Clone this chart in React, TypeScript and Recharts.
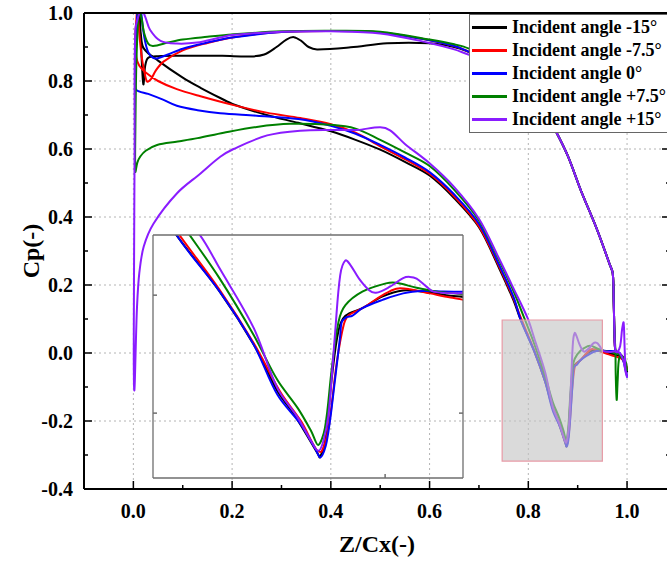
import React from "react";
import { LineChart, Line, XAxis, YAxis, CartesianGrid, ReferenceArea } from "recharts";

type Pt = [number, number];

const seriesNames = [
  "Incident angle -15°",
  "Incident angle -7.5°",
  "Incident angle 0°",
  "Incident angle +7.5°",
  "Incident angle +15°",
];

const xMajor = [0, 0.2, 0.4, 0.6, 0.8, 1.0];
const xMinor = [0.1, 0.3, 0.5, 0.7, 0.9];
const yMajor = [-0.4, -0.2, 0, 0.2, 0.4, 0.6, 0.8, 1.0];
const yMinor = [-0.3, -0.1, 0.1, 0.3, 0.5, 0.7, 0.9];
const gridX = [0, 0.2, 0.4, 0.6, 0.8, 1.0];
const gridY = [-0.2, 0, 0.2, 0.4, 0.6, 0.8];
const insetXTicks = [0.92];
const insetYTicks = [0, -0.2];

// pressure side from the trailing edge drop back up to the legend (same for all angles)
const pressureTail: Pt[] = [
  [0.9765, 0.005], [0.9745, 0.06], [0.973, 0.15], [0.971, 0.235], [0.965, 0.26], [0.94, 0.36],
  [0.906, 0.48], [0.88, 0.58], [0.853, 0.66], [0.83, 0.72], [0.8, 0.78], [0.76, 0.83], [0.72, 0.86],
];

// each loop: suction side LE -> TE, then pressure side TE -> LE
const loopM15: Pt[] = [
  [0.011, 1.0], [0.015, 0.94], [0.021, 0.896], [0.05, 0.86], [0.1, 0.81], [0.136, 0.78], [0.176, 0.75],
  [0.205, 0.73], [0.27, 0.7], [0.334, 0.677], [0.4, 0.652], [0.45, 0.627], [0.5, 0.598], [0.55, 0.562],
  [0.6, 0.522], [0.65, 0.455], [0.7, 0.37], [0.74, 0.252], [0.77, 0.155], [0.783, 0.103], [0.8117, 0.006],
  [0.834, -0.084], [0.8495, -0.163], [0.8606, -0.203], [0.8762, -0.27], [0.8773, -0.275], [0.8806, -0.25],
  [0.8851, -0.14], [0.8895, -0.06], [0.894, -0.035], [0.9051, -0.022], [0.9184, -0.002], [0.9318, 0.008],
  [0.9451, 0.006], [0.96, 0.0], [0.976, -0.005], [0.988, -0.012], [0.995, -0.025], [1.0, -0.055],
  [0.997, -0.03], [0.99, -0.008], [0.982, 0.0],
  ...pressureTail,
  [0.68, 0.885], [0.65, 0.9], [0.6, 0.911], [0.514, 0.911], [0.44, 0.899], [0.372, 0.893], [0.355, 0.9],
  [0.34, 0.918], [0.325, 0.929], [0.31, 0.922], [0.29, 0.9], [0.265, 0.878], [0.237, 0.872], [0.18, 0.874],
  [0.1, 0.874], [0.05, 0.873], [0.03, 0.868], [0.024, 0.845], [0.0205, 0.79], [0.018, 0.83], [0.015, 0.93],
  [0.013, 1.0],
];

const loopM75: Pt[] = [
  [0.007, 1.0], [0.004, 0.93], [0.006, 0.87], [0.012, 0.845], [0.025, 0.825], [0.05, 0.8], [0.088, 0.776],
  [0.136, 0.755], [0.203, 0.729], [0.27, 0.707], [0.338, 0.691], [0.4, 0.673], [0.45, 0.648], [0.5, 0.608],
  [0.55, 0.57], [0.6, 0.527], [0.65, 0.46], [0.7, 0.373], [0.74, 0.257], [0.77, 0.16], [0.785, 0.103],
  [0.8117, 0.0085], [0.834, -0.0816], [0.8518, -0.166], [0.865, -0.214], [0.875, -0.262], [0.8784, -0.265],
  [0.8829, -0.225], [0.8884, -0.113], [0.8929, -0.05], [0.8962, -0.034], [0.9051, -0.022], [0.9184, 0.0],
  [0.9273, 0.011], [0.9362, 0.01], [0.9495, 0.003], [0.9629, -0.004], [0.9762, -0.01], [0.988, -0.016],
  [0.995, -0.028], [1.0, -0.05],
  [0.997, -0.03], [0.99, -0.01], [0.982, -0.002],
  ...pressureTail,
  [0.68, 0.886], [0.65, 0.903], [0.6, 0.92], [0.5, 0.943], [0.4, 0.947], [0.3, 0.944], [0.25, 0.938],
  [0.2, 0.928], [0.15, 0.912], [0.1, 0.89], [0.061, 0.857], [0.045, 0.83], [0.036, 0.806], [0.028, 0.798],
  [0.022, 0.83], [0.017, 0.87], [0.012, 0.94], [0.009, 1.0],
];

const loop0: Pt[] = [
  [0.008, 1.0], [0.005, 0.9], [0.004, 0.8], [0.006, 0.774], [0.03, 0.762], [0.06, 0.745], [0.088, 0.727],
  [0.13, 0.714], [0.176, 0.705], [0.25, 0.698], [0.334, 0.688], [0.4, 0.668], [0.45, 0.645], [0.5, 0.612],
  [0.55, 0.575], [0.6, 0.532], [0.65, 0.466], [0.7, 0.38], [0.74, 0.262], [0.77, 0.165], [0.785, 0.096],
  [0.8117, 0.006], [0.834, -0.084], [0.8495, -0.169], [0.865, -0.22], [0.874, -0.259], [0.8777, -0.275],
  [0.8818, -0.248], [0.8873, -0.141], [0.8906, -0.068], [0.8917, -0.045], [0.8951, -0.037], [0.8984, -0.035],
  [0.9051, -0.022], [0.9184, -0.008], [0.9318, 0.003], [0.9451, 0.007], [0.9584, 0.006], [0.9762, 0.005],
  [0.985, 0.0], [0.992, -0.02], [0.997, -0.05], [1.0, -0.07],
  [0.996, -0.04], [0.99, -0.012], [0.982, 0.0],
  ...pressureTail,
  [0.68, 0.886], [0.65, 0.903], [0.6, 0.92], [0.5, 0.943], [0.4, 0.947], [0.3, 0.944], [0.2, 0.928],
  [0.15, 0.913], [0.1, 0.895], [0.07, 0.878], [0.05, 0.867], [0.04, 0.868], [0.03, 0.885], [0.022, 0.93],
  [0.016, 1.0],
];

const loopP75: Pt[] = [
  [0.01, 1.0], [0.006, 0.85], [0.004, 0.65], [0.004, 0.533], [0.008, 0.56], [0.014, 0.578], [0.025, 0.595],
  [0.048, 0.612], [0.09, 0.622], [0.13, 0.632], [0.183, 0.648], [0.25, 0.665], [0.318, 0.674], [0.4, 0.671],
  [0.45, 0.66], [0.5, 0.627], [0.55, 0.59], [0.6, 0.55], [0.65, 0.48], [0.7, 0.39], [0.74, 0.275],
  [0.77, 0.182], [0.7917, 0.103], [0.8117, 0.028], [0.834, -0.068], [0.8495, -0.144], [0.8629, -0.192],
  [0.8717, -0.231], [0.8762, -0.254], [0.8806, -0.225], [0.8851, -0.124], [0.8895, -0.045], [0.894, -0.017],
  [0.9051, 0.006], [0.9206, 0.02], [0.9273, 0.021], [0.9406, 0.0125], [0.954, 0.006], [0.9762, 0.0],
  [0.985, -0.005], [0.992, -0.02], [0.997, -0.04], [1.0, -0.05],
  [0.996, -0.02], [0.99, -0.01], [0.984, -0.015], [0.981, -0.08], [0.979, -0.138], [0.977, -0.06],
  ...pressureTail,
  [0.68, 0.895], [0.65, 0.908], [0.6, 0.922], [0.5, 0.945], [0.4, 0.948], [0.3, 0.946], [0.2, 0.937],
  [0.15, 0.93], [0.1, 0.922], [0.07, 0.913], [0.04, 0.903], [0.03, 0.91], [0.022, 0.94], [0.017, 0.98],
  [0.014, 1.0],
];

const loopP15: Pt[] = [
  [0.012, 1.0], [0.004, 0.95], [0.0025, 0.6], [0.0012, 0.2], [0.0008, 0.0], [0.0012, -0.09], [0.002, -0.11],
  [0.003, -0.08], [0.0045, 0.0], [0.0074, 0.136], [0.012, 0.235], [0.021, 0.313], [0.041, 0.381],
  [0.0885, 0.47], [0.136, 0.528], [0.176, 0.577], [0.203, 0.6], [0.271, 0.64], [0.338, 0.654], [0.406, 0.656],
  [0.453, 0.656], [0.5, 0.664], [0.52, 0.655], [0.55, 0.615], [0.6, 0.558], [0.65, 0.488], [0.7, 0.395],
  [0.74, 0.28], [0.77, 0.19], [0.7984, 0.103], [0.8117, 0.045], [0.834, -0.056], [0.8495, -0.158],
  [0.8629, -0.208], [0.8717, -0.248], [0.8762, -0.264], [0.8795, -0.248], [0.8829, -0.203], [0.8873, -0.062],
  [0.8906, 0.034], [0.894, 0.059], [0.8973, 0.051], [0.9029, 0.028], [0.9095, 0.0085], [0.914, 0.004],
  [0.9229, 0.014], [0.9318, 0.029], [0.9362, 0.031], [0.9406, 0.028], [0.9473, 0.014], [0.9518, 0.006],
  [0.9673, 0.003], [0.9762, 0.005], [0.985, 0.0], [0.992, -0.02], [0.997, -0.055], [1.0, -0.07],
  [0.997, -0.05], [0.995, 0.02], [0.993, 0.09], [0.99, 0.07], [0.986, 0.02], [0.98, 0.002],
  ...pressureTail,
  [0.68, 0.877], [0.65, 0.893], [0.6, 0.912], [0.5, 0.94], [0.4, 0.946], [0.3, 0.945], [0.2, 0.935],
  [0.176, 0.928], [0.129, 0.913], [0.088, 0.91], [0.055, 0.918], [0.034, 0.95], [0.025, 0.985], [0.021, 1.0],
];

const loops = [loopM15, loopM75, loop0, loopP75, loopP15];
const COLORS = ["#000000", "#ff0000", "#0000ff", "#008000", "#8a1cff"];
const FONT = '"Liberation Serif", "Times New Roman", serif';

const toRows = (pts: Pt[]) => pts.map(([x, y]) => ({ x, y }));
const isIn = (list: number[], v: number) => list.some((m) => Math.abs(m - v) < 1e-9);

// smooth curve through the points (chord-length tangents, no loops on uneven spacing)
function smoothCurve(context: any) {
  let pts: number[][] = [];
  return {
    areaStart() {},
    areaEnd() {},
    lineStart() {
      pts = [];
    },
    point(x: number, y: number) {
      pts.push([+x, +y]);
    },
    lineEnd() {
      const n = pts.length;
      if (!n) return;
      context.moveTo(pts[0][0], pts[0][1]);
      const d = (a: number[], b: number[]) => Math.hypot(b[0] - a[0], b[1] - a[1]) || 1e-6;
      const tan = (i: number) => {
        const a = pts[Math.max(i - 1, 0)];
        const b = pts[Math.min(i + 1, n - 1)];
        const len = (i > 0 ? d(pts[i - 1], pts[i]) : 0) + (i < n - 1 ? d(pts[i], pts[i + 1]) : 0);
        return [(b[0] - a[0]) / len, (b[1] - a[1]) / len];
      };
      for (let i = 0; i < n - 1; i++) {
        const p = pts[i];
        const q = pts[i + 1];
        const s = d(p, q) / 3;
        const t0 = tan(i);
        const t1 = tan(i + 1);
        context.bezierCurveTo(p[0] + t0[0] * s, p[1] + t0[1] * s, q[0] - t1[0] * s, q[1] - t1[1] * s, q[0], q[1]);
      }
    },
  };
}

const labelStyle = { fontFamily: FONT, fontWeight: "bold", fontSize: 20, fill: "#000" } as const;
const titleStyle = { fontFamily: FONT, fontWeight: "bold", fontSize: 24, fill: "#000" } as const;

function makeTick(side: "bottom" | "top" | "left" | "right", majors: number[], withLabel: boolean, stroke: string, major = 8, minor = 4) {
  return (props: any) => {
    const { x, y, payload } = props;
    const big = isIn(majors, payload.value);
    const len = big ? major : minor;
    let line;
    if (side === "bottom") line = <line x1={x} x2={x} y1={y} y2={y - len} />;
    else if (side === "top") line = <line x1={x} x2={x} y1={y} y2={y + len} />;
    else if (side === "left") line = <line x1={x} x2={x + len} y1={y} y2={y} />;
    else line = <line x1={x} x2={x - len} y1={y} y2={y} />;
    return (
      <g stroke={stroke} strokeWidth={1.5}>
        {line}
        {withLabel && big && side === "bottom" && (
          <text x={x} y={y + 29} textAnchor="middle" stroke="none" style={labelStyle}>
            {Number(payload.value).toFixed(1)}
          </text>
        )}
        {withLabel && big && side === "left" && (
          <text x={x - 11} y={y + 7} textAnchor="end" stroke="none" style={labelStyle}>
            {Number(payload.value).toFixed(1)}
          </text>
        )}
      </g>
    );
  };
}

const xTicks = [...xMajor, ...xMinor];
const yTicks = [...yMajor, ...yMinor];
const axisLine = { stroke: "#000", strokeWidth: 2 };
const insetAxisLine = { stroke: "#6e6e6e", strokeWidth: 1.3 };
const insetX = [0.768, 0.971];
const insetY = [-0.31, 0.102];

function CpLines() {
  return loops.map((pts, i) => (
    <Line
      key={seriesNames[i]}
      data={toRows(pts)}
      dataKey="y"
      stroke={COLORS[i]}
      strokeWidth={2}
      type={smoothCurve as any}
      dot={false}
      activeDot={false}
      isAnimationActive={false}
    />
  ));
}

export default function App() {
  return (
    <div style={{ position: "absolute", left: 0, top: 0, width: 667, height: 566, overflow: "hidden", background: "#fff" }}>
      <LineChart width={680} height={566} margin={{ top: 12, right: 9, bottom: 0, left: 0 }}>
        <CartesianGrid horizontalValues={gridY} verticalValues={gridX} stroke="#b4b4b4" strokeDasharray="2 3" />
        <XAxis
          dataKey="x"
          type="number"
          domain={[-0.1, 1.087]}
          allowDataOverflow
          ticks={xTicks}
          interval={0}
          height={77}
          tickSize={0}
          tickMargin={0}
          tickLine={false}
          axisLine={axisLine}
          tick={makeTick("bottom", xMajor, true, "#000")}
          label={{ value: "Z/Cx(-)", position: "insideBottom", offset: 14, style: titleStyle }}
        />
        <XAxis
          xAxisId="top"
          orientation="top"
          type="number"
          domain={[-0.1, 1.087]}
          allowDataOverflow
          ticks={xTicks}
          interval={0}
          height={1}
          tickSize={0}
          tickMargin={0}
          tickLine={false}
          axisLine={axisLine}
          tick={makeTick("top", xMajor, false, "#000")}
        />
        <YAxis
          dataKey="y"
          type="number"
          domain={[-0.4, 1.0]}
          allowDataOverflow
          ticks={yTicks}
          interval={0}
          width={84}
          tickSize={0}
          tickMargin={0}
          tickLine={false}
          axisLine={axisLine}
          tick={makeTick("left", yMajor, true, "#000")}
          label={{ value: "Cp(-)", angle: -90, position: "insideLeft", offset: 30, style: { ...titleStyle, textAnchor: "middle" } }}
        />
        <YAxis
          yAxisId="right"
          orientation="right"
          type="number"
          domain={[-0.4, 1.0]}
          allowDataOverflow
          ticks={yTicks}
          interval={0}
          width={1}
          tickSize={0}
          tickMargin={0}
          tickLine={false}
          axisLine={axisLine}
          tick={makeTick("right", yMajor, false, "#000")}
        />
        {CpLines()}
        <ReferenceArea
          x1={0.747}
          x2={0.95}
          y1={-0.318}
          y2={0.097}
          fill="#c4c4c4"
          fillOpacity={0.62}
          stroke="#e79aa6"
          strokeWidth={1.2}
          zIndex={1000}
        />
      </LineChart>

      <div style={{ position: "absolute", left: 151.5, top: 233.5 }}>
        <LineChart width={312} height={245} margin={{ top: 0, right: 0, bottom: 0, left: 0 }}>
          <XAxis
            dataKey="x"
            type="number"
            domain={insetX}
            allowDataOverflow
            ticks={insetXTicks}
            interval={0}
            height={1}
            tickSize={0}
            tickMargin={0}
            tickLine={false}
            axisLine={insetAxisLine}
            tick={makeTick("bottom", insetXTicks, false, "#6e6e6e", 4, 4)}
          />
          <XAxis
            xAxisId="top"
            orientation="top"
            type="number"
            domain={insetX}
            allowDataOverflow
            ticks={insetXTicks}
            interval={0}
            height={1}
            tickSize={0}
            tickMargin={0}
            tickLine={false}
            axisLine={insetAxisLine}
            tick={makeTick("top", insetXTicks, false, "#6e6e6e", 4, 4)}
          />
          <YAxis
            dataKey="y"
            type="number"
            domain={insetY}
            allowDataOverflow
            ticks={insetYTicks}
            interval={0}
            width={1}
            tickSize={0}
            tickMargin={0}
            tickLine={false}
            axisLine={insetAxisLine}
            tick={makeTick("left", insetYTicks, false, "#6e6e6e", 4, 4)}
          />
          <YAxis
            yAxisId="right"
            orientation="right"
            type="number"
            domain={insetY}
            allowDataOverflow
            ticks={insetYTicks}
            interval={0}
            width={1}
            tickSize={0}
            tickMargin={0}
            tickLine={false}
            axisLine={insetAxisLine}
            tick={makeTick("right", insetYTicks, false, "#6e6e6e", 4, 4)}
          />
          {CpLines()}
        </LineChart>
      </div>

      <div
        style={{
          position: "absolute",
          left: 469,
          top: 14,
          width: 220,
          height: 116,
          border: "1px solid #666",
          background: "#fff",
          paddingTop: 1,
          boxSizing: "content-box",
        }}
      >
        {seriesNames.map((name, i) => (
          <div key={name} style={{ display: "flex", alignItems: "center", height: 23 }}>
            <div style={{ width: 35, height: 2.5, background: COLORS[i], marginLeft: 2 }} />
            <span style={{ marginLeft: 5, fontFamily: FONT, fontWeight: "bold", fontSize: 18, color: "#000", whiteSpace: "nowrap" }}>
              {name}
            </span>
          </div>
        ))}
      </div>
    </div>
  );
}
